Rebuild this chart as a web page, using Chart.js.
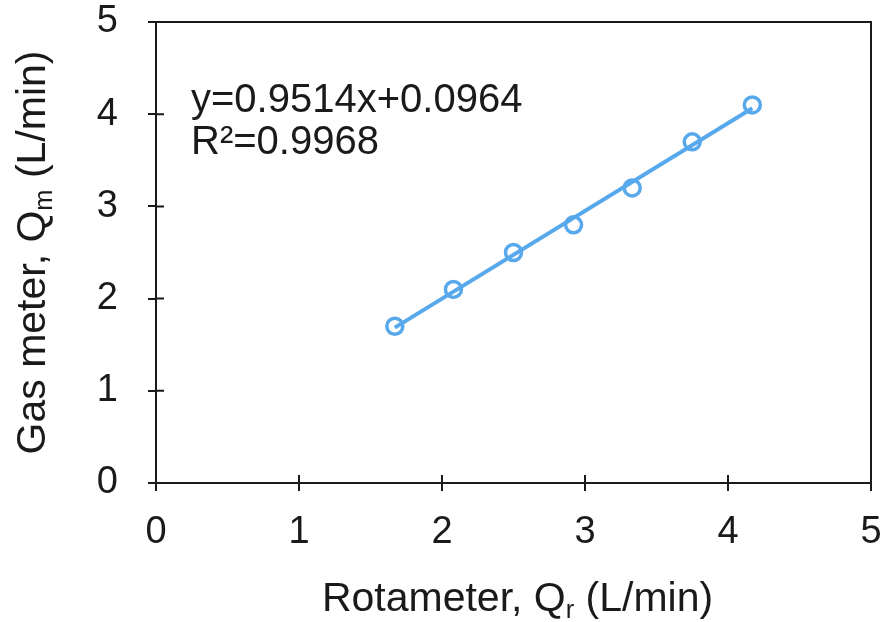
<!DOCTYPE html>
<html>
<head>
<meta charset="utf-8">
<script src="https://cdn.jsdelivr.net/npm/chart.js@4.4.1/dist/chart.umd.min.js"></script>
<style>
  html, body { margin: 0; padding: 0; background: #fff; }
  #wrap { width: 890px; height: 622px; }
</style>
</head>
<body>
<div id="wrap"><canvas id="calChart"></canvas></div>
<script>
// rotameter reading vs gas meter reading (L/min)
const rotameter = [1.67, 2.08, 2.5, 2.92, 3.33, 3.75, 4.17];
const gasMeter = [1.7, 2.1, 2.5, 2.8, 3.2, 3.7, 4.1];
const axisMin = 0;
const axisMax = 5;

// linear fit as given on the plot
const fitSlope = 0.9514;
const fitIntercept = 0.0964;
const fitR2 = '0.9968';

const FONT = "'Liberation Sans', Arial, Helvetica, sans-serif";
const INK = '#1a1a1a';
const BLUE = '#58a8ec';

const points = rotameter.map((x, i) => ({ x: x, y: gasMeter[i] }));
const xLo = Math.min(...rotameter);
const xHi = Math.max(...rotameter);
const fitLine = [
  { x: xLo, y: fitSlope * xLo + fitIntercept },
  { x: xHi, y: fitSlope * xHi + fitIntercept }
];

// writes a run of text pieces, some of them as subscripts
function richText(ctx, parts, x, y, size) {
  let total = 0;
  parts.forEach(p => {
    ctx.font = (p.sub ? size * 0.62 : size) + 'px ' + FONT;
    p.w = ctx.measureText(p.t).width;
    total += p.w;
  });
  let cx = x - total / 2;
  parts.forEach(p => {
    ctx.font = (p.sub ? size * 0.62 : size) + 'px ' + FONT;
    ctx.fillText(p.t, cx, p.sub ? y + size * 0.16 : y);
    cx += p.w;
  });
}

const framePlugin = {
  id: 'frame',
  afterDraw(chart) {
    const { ctx, chartArea: a, scales } = chart;
    ctx.save();
    ctx.strokeStyle = INK;
    ctx.lineWidth = 2;
    // top and right edges of the box
    ctx.beginPath();
    ctx.moveTo(a.left, a.top);
    ctx.lineTo(a.right, a.top);
    ctx.lineTo(a.right, a.bottom);
    ctx.stroke();
    // tick marks reach inside the box too
    ctx.beginPath();
    scales.x.ticks.forEach(t => {
      const px = scales.x.getPixelForValue(t.value);
      if (px > a.left + 1 && px < a.right - 1) {
        ctx.moveTo(px, a.bottom);
        ctx.lineTo(px, a.bottom - 8);
      }
    });
    scales.y.ticks.forEach(t => {
      const py = scales.y.getPixelForValue(t.value);
      if (py > a.top + 1 && py < a.bottom - 1) {
        ctx.moveTo(a.left, py);
        ctx.lineTo(a.left + 8, py);
      }
    });
    ctx.stroke();

    ctx.fillStyle = INK;
    ctx.textBaseline = 'alphabetic';
    ctx.textAlign = 'left';

    // axis titles
    richText(ctx, [{ t: 'Rotameter, Q' }, { t: 'r', sub: true }, { t: ' (L/min)' }],
      (a.left + a.right) / 2 + 4, 611, 41);
    ctx.save();
    ctx.translate(45, (a.top + a.bottom) / 2);
    ctx.rotate(-Math.PI / 2);
    richText(ctx, [{ t: 'Gas meter, Q' }, { t: 'm', sub: true }, { t: ' (L/min)' }], 0, 0, 41);
    ctx.restore();

    // fit equation
    ctx.font = '40px ' + FONT;
    ctx.fillText('y=' + fitSlope + 'x+' + fitIntercept, a.left + 35, a.top + 90);
    ctx.fillText('R\u00b2=' + fitR2, a.left + 35, a.top + 132);
    ctx.restore();
  }
};

const config = {
  type: 'scatter',
  data: {
    datasets: [{
      label: 'Fit',
      type: 'line',
      data: fitLine,
      borderColor: BLUE,
      borderWidth: 4,
      pointRadius: 0,
      fill: false,
      order: 0
    },
    {
      label: 'Measured',
      data: points,
      borderColor: BLUE,
      backgroundColor: 'rgba(0,0,0,0)',
      borderWidth: 3.5,
      pointRadius: 8,
      order: 1
    }]
  },
  options: {
    responsive: false,
    animation: false,
    layout: { padding: { left: 0, right: 19, top: 22, bottom: 0 } },
    plugins: {
      legend: { display: false },
      tooltip: { enabled: false }
    },
    scales: {
      x: {
        type: 'linear',
        min: axisMin,
        max: axisMax,
        ticks: { stepSize: 1, color: INK, padding: 19, font: { family: FONT, size: 38 } },
        grid: { drawOnChartArea: false, tickLength: 8, color: INK, lineWidth: 2 },
        border: { color: INK, width: 2 },
        afterFit(scale) {
          scale.height = 139;
          scale.paddingLeft = 0;
          scale.paddingRight = 0;
        }
      },
      y: {
        min: axisMin,
        max: axisMax,
        ticks: { stepSize: 1, color: INK, padding: 30, font: { family: FONT, size: 38 } },
        grid: { drawOnChartArea: false, tickLength: 8, color: INK, lineWidth: 2 },
        border: { color: INK, width: 2 },
        afterFit(scale) {
          scale.width = 156;
          scale.paddingTop = 0;
          scale.paddingBottom = 0;
        }
      }
    }
  },
  plugins: [framePlugin]
};

const canvas = document.getElementById('calChart');
canvas.width = 890;
canvas.height = 622;
const calChart = new Chart(canvas, config);
</script>
</body>
</html>
